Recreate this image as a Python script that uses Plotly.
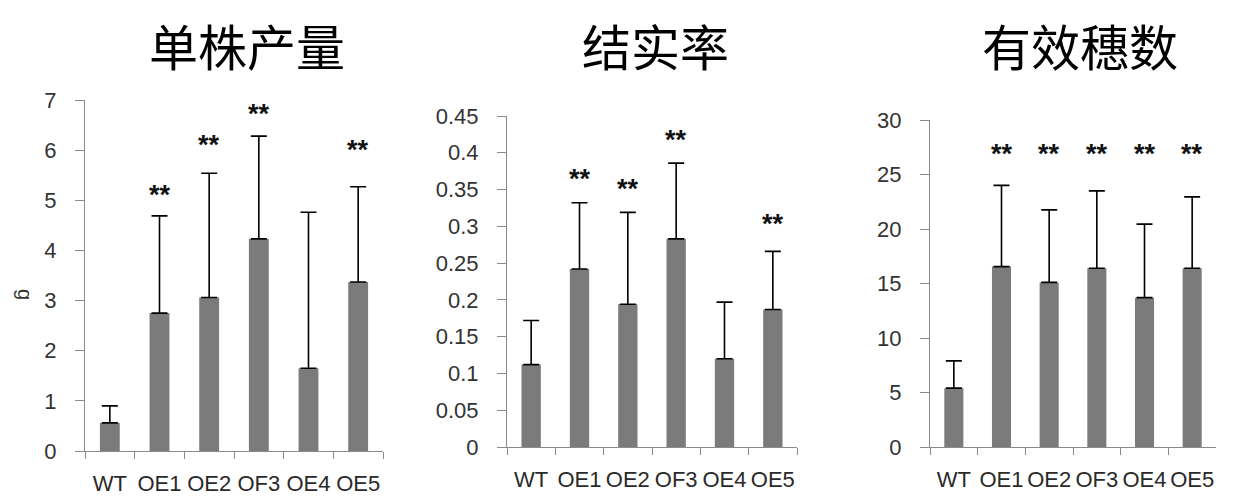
import plotly.graph_objects as go

categories = ["WT", "OE1", "OE2", "OF3", "OE4", "OE5"]

# Panel 1: 单株产量 (g)
yield_mean = [0.56, 2.75, 3.06, 4.23, 1.65, 3.37]
yield_err = [0.34, 1.94, 2.48, 2.05, 3.11, 1.90]
yield_sig = ["", "**", "**", "**", "", "**"]
yield_sig_y = [0, 5.1, 6.1, 6.73, 0, 6.0]

# Panel 2: 结实率
seed_mean = [0.112, 0.242, 0.194, 0.283, 0.120, 0.187]
seed_err = [0.060, 0.090, 0.125, 0.103, 0.077, 0.079]
seed_sig = ["", "**", "**", "**", "", "**"]
seed_sig_y = [0, 0.364, 0.351, 0.417, 0, 0.303]

# Panel 3: 有效穗数
panicle_mean = [5.4, 16.55, 15.1, 16.4, 13.7, 16.4]
panicle_err = [2.5, 7.45, 6.65, 7.1, 6.75, 6.55]
panicle_sig = ["", "**", "**", "**", "**", "**"]
panicle_sig_y = [0, 26.9, 26.9, 26.9, 26.9, 26.9]

titles = ["单株产量", "结实率", "有效穗数"]
y_ranges = [[0, 7], [0, 0.45], [0, 30]]
y_dticks = [1, 0.05, 5]

BAR = "#7b7b7b"
AXIS = "#8a8a8a"
TICKFONT = dict(family="Liberation Sans, Arial, sans-serif", size=22, color="#333333")
XFONT = dict(family="Liberation Sans, Arial, sans-serif", size=22, color="#2a2a2a")

W, H = 1246, 504
OFF = 8  # page body margin


def px(x):
    return (x - OFF) / W


def py(y):
    return 1 - (y - OFF) / H


panels = [
    dict(mean=yield_mean, err=yield_err, sig=yield_sig, sigy=yield_sig_y,
         xdom=[px(85), px(383)], ydom=[py(451), py(100)], tx=247),
    dict(mean=seed_mean, err=seed_err, sig=seed_sig, sigy=seed_sig_y,
         xdom=[px(507), px(797)], ydom=[py(447), py(116)], tx=655),
    dict(mean=panicle_mean, err=panicle_err, sig=panicle_sig, sigy=panicle_sig_y,
         xdom=[px(930), px(1216)], ydom=[py(447), py(120)], tx=1080),
]

fig = go.Figure()
annotations = []
layout = {}
for i, p in enumerate(panels):
    n = "" if i == 0 else str(i + 1)
    fig.add_trace(go.Bar(
        x=categories, y=p["mean"], marker=dict(color=BAR, line=dict(width=0)),
        error_y=dict(type="data", array=p["err"], arrayminus=[0] * len(p["err"]),
                     symmetric=False, color="black", thickness=1.6, width=8),
        xaxis="x" + n, yaxis="y" + n, showlegend=False,
    ))
    layout["xaxis" + n] = dict(
        domain=p["xdom"], anchor="y" + n, type="category", tickson="boundaries",
        range=[-0.5, 5.5], showline=True, linecolor=AXIS, linewidth=1.2,
        ticks="outside", ticklen=7, tickcolor=AXIS, tickfont=XFONT, tickangle=0,
        ticklabelstandoff=12, showgrid=False, zeroline=False, fixedrange=True,
        automargin=False,
    )
    layout["yaxis" + n] = dict(
        domain=p["ydom"], anchor="x" + n, range=y_ranges[i], dtick=y_dticks[i],
        tick0=0, showline=True, linecolor=AXIS, linewidth=1.2, ticks="outside",
        ticklen=9, tickcolor=AXIS, tickfont=TICKFONT, ticklabelstandoff=14,
        showgrid=False, zeroline=False, fixedrange=True, automargin=False,
    )
    for c, s, sy in zip(categories, p["sig"], p["sigy"]):
        if s:
            annotations.append(dict(
                x=c, y=sy, xref="x" + n, yref="y" + n, text="<b>" + s + "</b>",
                showarrow=False, yanchor="middle",
                font=dict(family="Liberation Sans, Arial", size=27, color="#111111"),
            ))
    annotations.append(dict(
        x=px(p["tx"]), y=1, xref="paper", yref="paper", text=titles[i],
        showarrow=False, xanchor="center", yanchor="top", borderpad=0,
        font=dict(family="Noto Sans CJK SC", size=49, color="black"),
    ))

annotations.append(dict(
    x=px(25), y=py(294), xref="paper", yref="paper", text="g", textangle=90,
    xanchor="center", yanchor="middle", showarrow=False,
    font=dict(family="Liberation Sans, Arial", size=20, color="#333"),
))

fig.update_layout(
    **layout, annotations=annotations, width=W, height=H,
    margin=dict(l=0, r=0, t=0, b=0, autoexpand=False),
    plot_bgcolor="white", paper_bgcolor="white", bargap=0.6,
)
fig.write_html("out.html")
